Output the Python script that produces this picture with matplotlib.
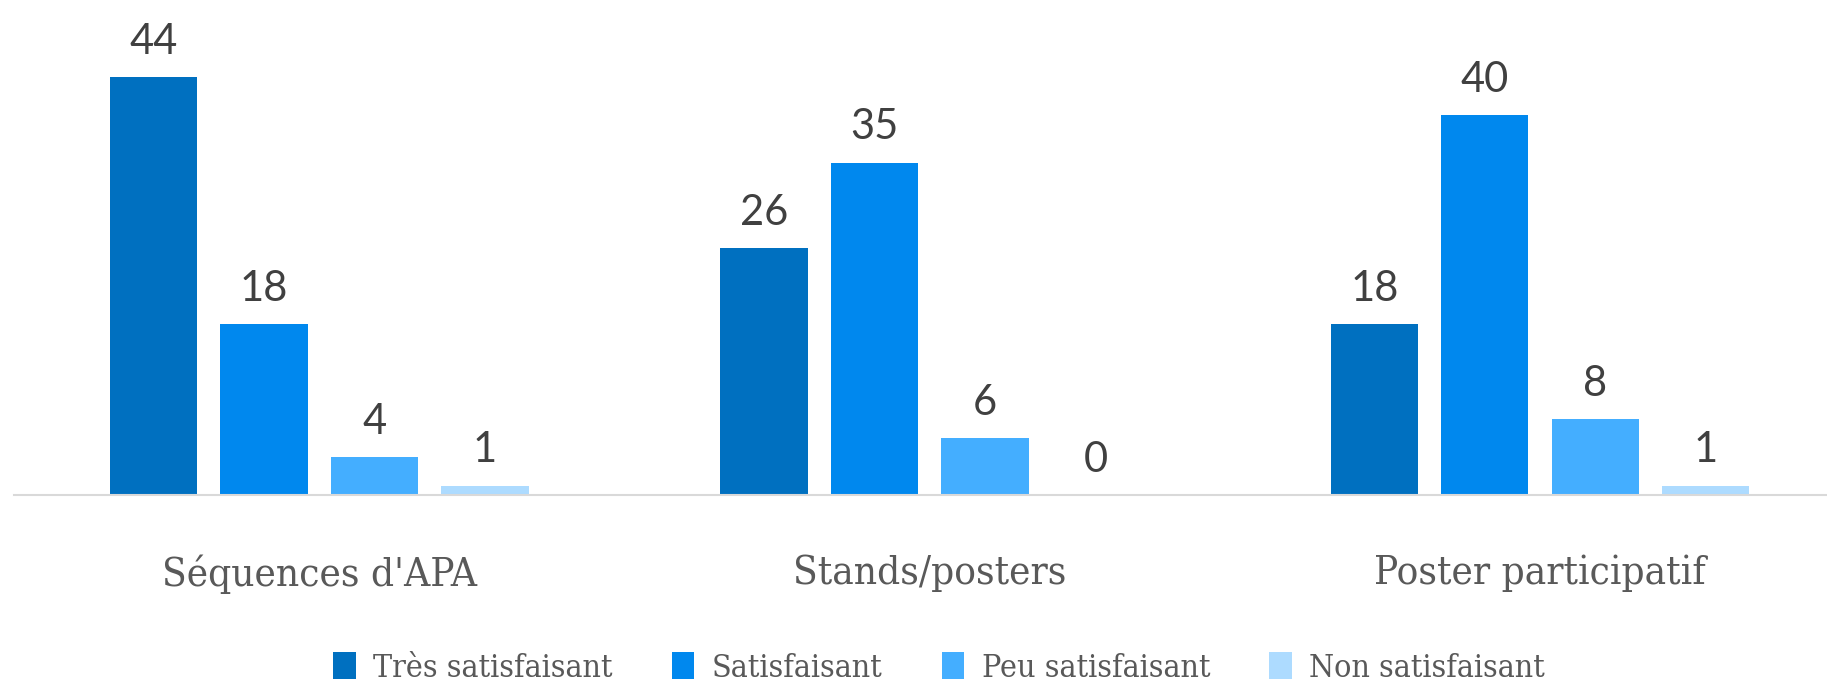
import matplotlib.pyplot as plt
from matplotlib import font_manager
import numpy as np

categories = ["Séquences d'APA", "Stands/posters", "Poster participatif"]
series = ["Très satisfaisant", "Satisfaisant", "Peu satisfaisant", "Non satisfaisant"]
values = [
    [44, 26, 18],
    [18, 35, 40],
    [4, 6, 8],
    [1, 0, 1],
]
colors = ["#0070C0", "#0088EE", "#44AEFF", "#ADDBFF"]

# condensed serif for the category / legend text if the system has one
names = {(f.name, f.stretch) for f in font_manager.fontManager.ttflist}
if any(n == "DejaVu Serif" and s == "condensed" for n, s in names):
    serif = dict(family="DejaVu Serif", stretch="condensed")
else:
    serif = dict(family="Liberation Serif")

fig = plt.figure(figsize=(18.27, 6.83), dpi=100)
ax = fig.add_axes([14 / 1827, 188 / 683, 1 - 14 / 1827, 475 / 683])

x = np.arange(len(categories))
step = 0.181
width = 0.143
for i, (name, vals) in enumerate(zip(series, values)):
    pos = x + (i - 1.5) * step
    bars = ax.bar(pos, vals, width, color=colors[i], label=name)
    for b, v in zip(bars, vals):
        ax.text(b.get_x() + b.get_width() / 2, v + 2.45, str(v), ha="center", va="baseline",
                fontsize=30, color="#404040", family="Lato")

ax.set_xlim(-0.5, 2.47)
ax.set_ylim(0, 50)
ax.set_yticks([])
for s in ["top", "right", "left"]:
    ax.spines[s].set_visible(False)
ax.spines["bottom"].set_color("#D9D9D9")
ax.spines["bottom"].set_linewidth(1.5)

ax.set_xticks(x)
ax.set_xticklabels(categories, fontsize=29, color="#595959", **serif)
ax.tick_params(axis="x", length=0, pad=43)

fig.legend(loc="center", bbox_to_anchor=(0.514, 0.022), ncol=4, frameon=False,
           handlelength=0.7, handleheight=0.9, handletextpad=0.55, columnspacing=1.85,
           prop=dict(size=23, **serif), labelcolor="#595959")

fig.savefig("out.png", dpi=100)
